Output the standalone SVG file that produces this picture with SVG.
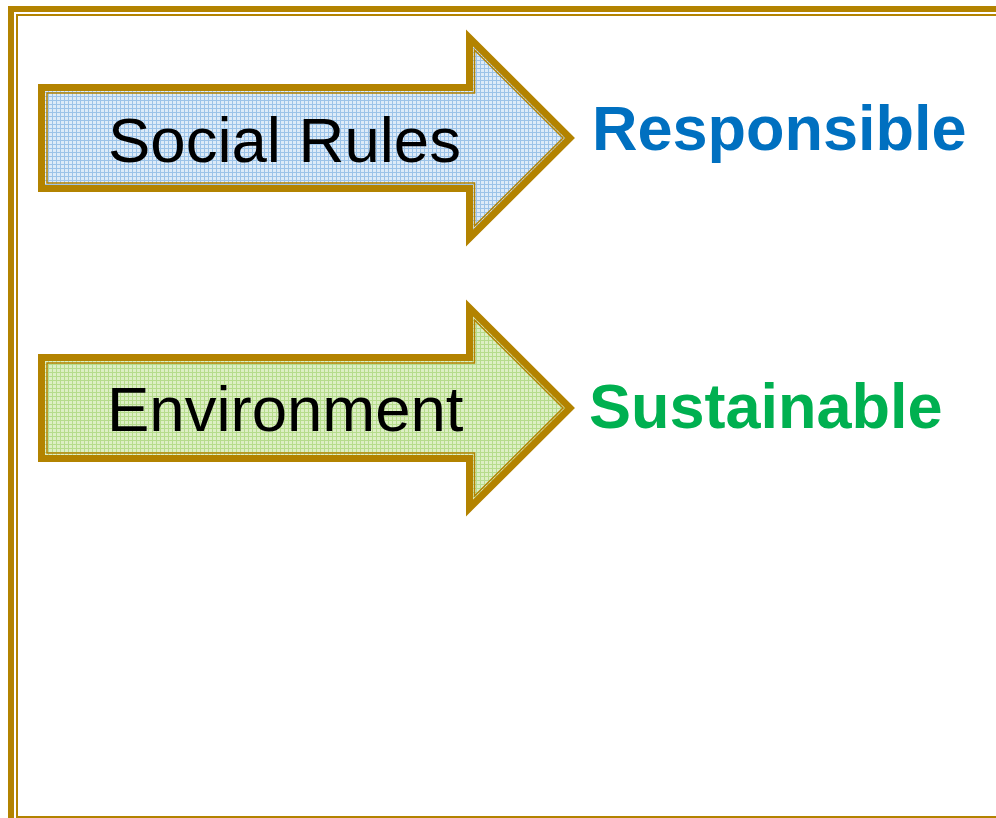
<svg xmlns="http://www.w3.org/2000/svg" width="996" height="818" viewBox="0 0 996 818">
  <defs>
    <pattern id="gridBlue" width="4" height="4" patternUnits="userSpaceOnUse">
      <rect width="4" height="4" fill="#DDEBF8"/>
      <rect width="4" height="1" fill="#9CC3E8"/>
      <rect width="1" height="4" fill="#9CC3E8"/>
    </pattern>
    <pattern id="gridGreen" width="4" height="4" patternUnits="userSpaceOnUse">
      <rect width="4" height="4" fill="#DDEFC4"/>
      <rect width="4" height="1" fill="#B6DC8C"/>
      <rect width="1" height="4" fill="#B6DC8C"/>
    </pattern>
  </defs>
  <style>
    .outer { stroke: #B38300; stroke-width: 7; stroke-linejoin: miter; }
    .inner { fill: none; stroke: #B38300; stroke-width: 1.5; }
    .label { font-family: "Liberation Sans", Arial, sans-serif; font-size: 63.5px; fill: #000; }
    .result { font-family: "Liberation Sans", Arial, sans-serif; font-size: 63px; font-weight: bold; }
    .frame { fill: #B38300; }
  </style>
  <rect width="996" height="818" fill="#FFFFFF"/>
  <g id="frame">
    <rect class="frame" x="8" y="6" width="988" height="6"/>
    <rect class="frame" x="8" y="6" width="6" height="812"/>
    <rect class="frame" x="16" y="14" width="980" height="2"/>
    <rect class="frame" x="16" y="14" width="2" height="804"/>
    <rect class="frame" x="16" y="816" width="980" height="2"/>
  </g>
  <g id="arrow-social">
    <polygon class="outer" fill="url(#gridBlue)" points="41.5,87.5 469.5,87.5 469.5,38 570,138 469.5,238 469.5,188.5 41.5,188.5"/>
    <polygon class="inner" points="47,93 474.5,93 474.5,50 563,138 474.5,226 474.5,183 47,183"/>
    <text class="label" x="108" y="162">Social Rules</text>
  </g>
  <g id="arrow-environment">
    <polygon class="outer" fill="url(#gridGreen)" points="41.5,357.5 469.5,357.5 469.5,308 570,408 469.5,508 469.5,458.5 41.5,458.5"/>
    <polygon class="inner" points="47,363 474.5,363 474.5,320 563,408 474.5,496 474.5,453 47,453"/>
    <text class="label" x="107" y="431">Environment</text>
  </g>
  <g id="responsible">
    <text class="result" x="592" y="150" fill="#0070C0">Responsible</text>
  </g>
  <g id="sustainable">
    <text class="result" x="589" y="428" fill="#00B050">Sustainable</text>
  </g>
  <g id="connectors"></g>
</svg>
